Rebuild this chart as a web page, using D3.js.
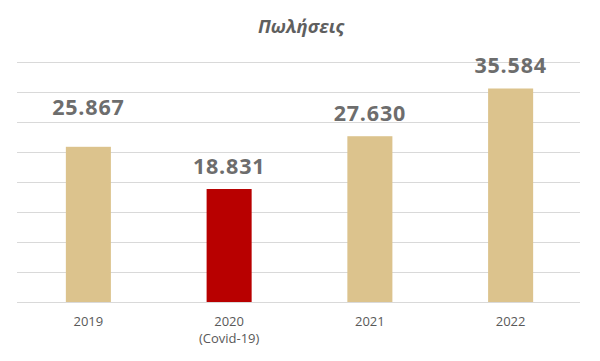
<!DOCTYPE html>
<html>
<head>
<meta charset="utf-8">
<script src="https://cdn.jsdelivr.net/npm/d3@7"></script>
<style>
  html, body { margin: 0; padding: 0; background: #fff; }
  svg { display: block; }
</style>
</head>
<body>
<svg id="chart" width="600" height="361"></svg>
<script>
const title = "Πωλήσεις";
const categories = ["2019", "2020", "2021", "2022"];
const subLabels = ["", "(Covid-19)", "", ""];
const sales = [25867, 18831, 27630, 35584];
const valueLabels = ["25.867", "18.831", "27.630", "35.584"];
const yTicks = [0, 5000, 10000, 15000, 20000, 25000, 30000, 35000, 40000];
const highlight = ["normal", "covid", "normal", "normal"];

const svg = d3.select("#chart");
const font = "'Open Sans', 'Liberation Sans', sans-serif";

const x = d3.scaleBand().domain(categories).range([18, 581])
  .paddingInner(0.68).paddingOuter(0.34);
const y = d3.scaleLinear().domain([0, 40000]).range([302, 62]);

// gridlines
svg.append("g").selectAll("line").data(yTicks).join("line")
  .attr("x1", 17).attr("x2", 580)
  .attr("y1", d => Math.round(y(d)) + 0.5).attr("y2", d => Math.round(y(d)) + 0.5)
  .attr("stroke", "#d9d9d9").attr("stroke-width", 1);

// bars
svg.append("g").selectAll("rect").data(sales).join("rect")
  .attr("x", (d, i) => x(categories[i]))
  .attr("width", x.bandwidth())
  .attr("y", d => y(d))
  .attr("height", d => y(0) - y(d))
  .attr("fill", (d, i) => highlight[i] === "covid" ? "#b80000" : "#dcc38d");

// value labels
const lift = i => (i === 0 ? 32 : 15);
svg.append("g").selectAll("text").data(sales).join("text")
  .attr("x", (d, i) => x(categories[i]) + x.bandwidth() / 2)
  .attr("y", (d, i) => y(d) - lift(i))
  .attr("text-anchor", "middle")
  .attr("font-family", font).attr("font-weight", 700)
  .attr("font-size", 21.5).attr("letter-spacing", 0.8)
  .attr("fill", "#6d6d6d")
  .text((d, i) => valueLabels[i]);

// x axis labels
const xa = svg.append("g");
xa.selectAll("text.cat").data(categories).join("text").attr("class", "cat")
  .attr("x", d => x(d) + x.bandwidth() / 2).attr("y", 326)
  .attr("text-anchor", "middle").attr("font-family", font)
  .attr("font-size", 13).attr("fill", "#595959").text(d => d);
xa.selectAll("text.sub").data(categories.filter((d, i) => subLabels[i])).join("text").attr("class", "sub")
  .attr("x", d => x(d) + x.bandwidth() / 2).attr("y", 343)
  .attr("text-anchor", "middle").attr("font-family", font)
  .attr("font-size", 13).attr("fill", "#595959")
  .text(d => subLabels[categories.indexOf(d)]);

// title
svg.append("text").attr("x", 301).attr("y", 33)
  .attr("text-anchor", "middle").attr("font-family", font)
  .attr("font-size", 18.5).attr("font-weight", 700).attr("font-style", "italic")
  .attr("fill", "#5f5f5f").text(title);
</script>
</body>
</html>
